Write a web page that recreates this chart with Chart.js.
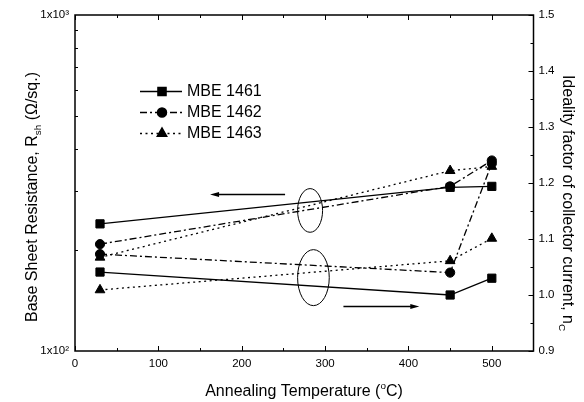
<!DOCTYPE html>
<html><head><meta charset="utf-8">
<script src="https://cdn.jsdelivr.net/npm/chart.js@4.4.0/dist/chart.umd.min.js"></script>
<style>html,body{margin:0;padding:0;background:#fff}#wrap{width:584px;height:402px}</style>
</head><body><div id="wrap"><canvas id="c" width="584" height="402"></canvas></div>
<script>
// ---- data ----
const temps = [30, 450, 500];
const seriesNames = ['MBE 1461', 'MBE 1462', 'MBE 1463'];
const rsh1461 = [239, 307, 309];
const rsh1462 = [208, 309, 369];
const rsh1463 = [190, 344, 354];
const nc1461 = [1.041, 1.000, 1.030];
const nc1462 = [1.073, 1.040, 1.235];
const nc1463 = [1.009, 1.061, 1.101];
const xTicks = [0, 100, 200, 300, 400, 500];
const leftTicks = [100, 1000];
const rightTicks = [0.9, 1.0, 1.1, 1.2, 1.3, 1.4, 1.5];

// ---- styles ----
const FONT = '"Liberation Sans", Arial, sans-serif';
const styles = [
  {dash: [], point: 'rect', r: 5.8},
  {dash: [7, 3, 2, 3], point: 'circle', r: 4.6},
  {dash: [2, 3.5], point: 'triangle', r: 5.6}
];
const rshSets = [rsh1461, rsh1462, rsh1463];
const ncSets = [nc1461, nc1462, nc1463];

function mk(values, i, axis) {
  const s = styles[i];
  return {
    label: seriesNames[i],
    data: temps.map((t, k) => ({x: t, y: values[k]})),
    yAxisID: axis,
    borderColor: '#000', backgroundColor: '#000',
    borderWidth: 1.3, borderDash: s.dash,
    pointStyle: s.point, pointRadius: s.r, pointHoverRadius: s.r,
    pointBackgroundColor: '#000', pointBorderColor: '#000', pointBorderWidth: 1,
    fill: false, tension: 0, clip: false
  };
}
const datasets = [];
for (let i = 0; i < 3; i++) datasets.push(mk(rshSets[i], i, 'yL'));
for (let i = 0; i < 3; i++) datasets.push(mk(ncSets[i], i, 'yR'));

// decorations (ellipses & arrows) placed in data coordinates (x, right axis)
const ellipses = [
  {cx: 282, cy: 1.151, rx: 15, ry: 0.039},
  {cx: 286, cy: 1.031, rx: 19, ry: 0.050}
];
const arrows = [
  {x0: 252, x1: 162, y: 1.181},
  {x0: 322, x1: 413, y: 0.981}
];

function drawRich(ctx, parts, size) {
  let w = 0;
  const meas = parts.map(p => {
    const fs = p.m ? size * 0.62 : size;
    ctx.font = fs + 'px ' + FONT;
    const mw = ctx.measureText(p.t).width;
    w += mw;
    return {p, fs, mw};
  });
  let xx = -w / 2;
  meas.forEach(({p, fs, mw}) => {
    ctx.font = fs + 'px ' + FONT;
    const dy = p.m === 'sub' ? size * 0.28 : (p.m === 'sup' ? -size * 0.45 : 0);
    ctx.fillText(p.t, xx, dy);
    xx += mw;
  });
}

const deco = {
  id: 'deco',
  afterDraw(chart) {
    const {ctx, chartArea: a, scales} = chart;
    const x = scales.x, yL = scales.yL, yR = scales.yR;
    ctx.save();
    ctx.strokeStyle = '#000'; ctx.fillStyle = '#000';
    ctx.setLineDash([]);
    // ticks
    ctx.lineWidth = 1;
    ctx.beginPath();
    for (let v = 0; v < 550; v += 50) {
      const px = Math.round(x.getPixelForValue(v)) + 0.5;
      const L = v % 100 === 0 ? 5 : 3;
      ctx.moveTo(px, a.bottom); ctx.lineTo(px, a.bottom - L);
      ctx.moveTo(px, a.top); ctx.lineTo(px, a.top + L);
    }
    for (let m = 2; m <= 9; m++) {
      const py = Math.round(yL.getPixelForValue(m * 100)) + 0.5;
      ctx.moveTo(a.left, py); ctx.lineTo(a.left + 3, py);
    }
    for (let k = 0; k <= 12; k++) {
      const v = 0.9 + k * 0.05;
      const py = Math.round(yR.getPixelForValue(v)) + 0.5;
      const L = k % 2 === 0 ? 5 : 3;
      ctx.moveTo(a.right, py); ctx.lineTo(a.right - L, py);
    }
    ctx.stroke();
    // frame
    ctx.lineWidth = 1.5;
    ctx.strokeRect(a.left, a.top, a.right - a.left, a.bottom - a.top);

    // ellipses
    ctx.lineWidth = 1;
    ellipses.forEach(e => {
      const cx = x.getPixelForValue(e.cx), cy = yR.getPixelForValue(e.cy);
      const rx = x.getPixelForValue(e.cx + e.rx) - cx;
      const ry = cy - yR.getPixelForValue(e.cy + e.ry);
      ctx.beginPath(); ctx.ellipse(cx, cy, rx, ry, 0, 0, Math.PI * 2); ctx.stroke();
    });
    // arrows
    arrows.forEach(ar => {
      const x0 = x.getPixelForValue(ar.x0), x1 = x.getPixelForValue(ar.x1);
      const py = Math.round(yR.getPixelForValue(ar.y)) + 0.5;
      const dir = Math.sign(x1 - x0);
      ctx.lineWidth = 1.3;
      ctx.beginPath(); ctx.moveTo(x0, py); ctx.lineTo(x1 - dir * 6, py); ctx.stroke();
      ctx.beginPath(); ctx.moveTo(x1, py); ctx.lineTo(x1 - dir * 9, py - 2.5); ctx.lineTo(x1 - dir * 9, py + 2.5); ctx.closePath(); ctx.fill();
    });

    // legend
    const legY = [91, 112, 133];
    for (let i = 0; i < 3; i++) {
      const ds = chart.data.datasets[i];
      const y = legY[i];
      ctx.lineWidth = 1.3; ctx.setLineDash(ds.borderDash);
      ctx.beginPath(); ctx.moveTo(140, y + 0.5); ctx.lineTo(182, y + 0.5); ctx.stroke();
      ctx.setLineDash([]);
      Chart.helpers.drawPoint(ctx, {pointStyle: ds.pointStyle, radius: ds.pointRadius, rotation: 0, borderWidth: 1}, 162, y + 0.5);
      ctx.fill();
      ctx.font = '16px ' + FONT; ctx.textBaseline = 'middle'; ctx.textAlign = 'left';
      ctx.fillText(ds.label, 187, y + 1);
    }

    // axis titles
    ctx.textBaseline = 'alphabetic'; ctx.textAlign = 'left';
    ctx.save(); ctx.translate(304, 396);
    drawRich(ctx, [{t: 'Annealing Temperature ('}, {t: 'o', m: 'sup'}, {t: 'C)'}], 16);
    ctx.restore();
    ctx.save(); ctx.translate(37, 197); ctx.rotate(-Math.PI / 2);
    drawRich(ctx, [{t: 'Base Sheet Resistance, R'}, {t: 'sh', m: 'sub'}, {t: ' (\u03A9/sq.)'}], 16);
    ctx.restore();
    ctx.save(); ctx.translate(563, 203); ctx.rotate(Math.PI / 2);
    drawRich(ctx, [{t: 'Ideality factor of collector current, n'}, {t: 'C', m: 'sub'}], 16);
    ctx.restore();
    ctx.restore();
  }
};

const tickFont = {family: FONT, size: 11.5};
new Chart(document.getElementById('c'), {
  type: 'line',
  data: {datasets},
  options: {
    responsive: false, animation: false, devicePixelRatio: 1,
    layout: {padding: {top: 15, left: 0, right: 0, bottom: 0}},
    plugins: {legend: {display: false}, tooltip: {enabled: false}},
    scales: {
      x: {
        type: 'linear', min: 0, max: 550, position: 'bottom',
        afterBuildTicks: s => { s.ticks = xTicks.map(v => ({value: v})); },
        afterFit: s => { s.height = 51; },
        grid: {display: false, drawTicks: false}, border: {display: false},
        ticks: {padding: 6, font: tickFont, color: '#000', maxRotation: 0, autoSkip: false}
      },
      yL: {
        type: 'logarithmic', position: 'left', min: 100, max: 1000,
        afterBuildTicks: s => { s.ticks = leftTicks.map(v => ({value: v})); },
        afterFit: s => { s.width = 75; },
        grid: {display: false, drawTicks: false}, border: {display: false},
        ticks: {padding: 6, font: tickFont, color: '#000', autoSkip: false,
          callback: v => v === 100 ? '1x10\u00B2' : '1x10\u00B3'}
      },
      yR: {
        type: 'linear', position: 'right', min: 0.9, max: 1.5,
        afterBuildTicks: s => { s.ticks = rightTicks.map(v => ({value: v})); },
        afterFit: s => { s.width = 50.5; },
        grid: {display: false, drawTicks: false}, border: {display: false},
        ticks: {padding: 5, font: tickFont, color: '#000', autoSkip: false,
          callback: v => Number(v).toFixed(1)}
      }
    }
  },
  plugins: [deco]
});
</script></body></html>
